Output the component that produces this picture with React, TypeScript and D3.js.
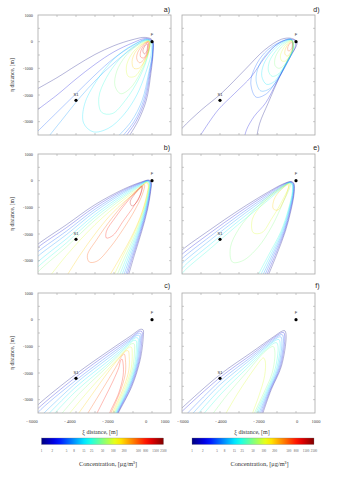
import React, { useEffect, useRef } from "react";
import * as d3 from "d3";

// contour levels, µg/m3
const levels = [1, 2, 5, 8, 15, 25, 50, 100, 200, 500, 800, 1500, 2500];
const xTickValues = [-6000, -4000, -2000, 0, 1000];
const yTickValues = [1000, 0, -1000, -2000, -3000];
const source = { name: "F", xi: 0, eta: 0 };
const receptor = { name: "S1", xi: -4000, eta: -2200 };

type Contour = { level: number; closed: boolean; pts: [number, number][] };

// a) wide plume near the source
const contoursA: Contour[] = [
  { level: 1, closed: false, pts: [[-6500, -1950], [-5000, -1350], [-4000, -900], [-3000, -480], [-2000, -150], [-1000, 80], [-350, 160], [20, 60], [60, -350], [-60, -1200], [-300, -2200], [-750, -3000], [-1350, -3700]] },
  { level: 2, closed: false, pts: [[-6500, -2800], [-5000, -2000], [-4000, -1400], [-3000, -850], [-2000, -380], [-1000, -40], [-350, 120], [10, 40], [50, -350], [-100, -1200], [-370, -2200], [-850, -3000], [-1550, -3700]] },
  { level: 5, closed: false, pts: [[-6500, -3700], [-5000, -2650], [-4000, -1950], [-3000, -1250], [-2000, -620], [-1000, -140], [-350, 90], [0, 20], [40, -350], [-140, -1200], [-440, -2200], [-950, -3000], [-1750, -3700]] },
  { level: 8, closed: false, pts: [[-5600, -3700], [-4700, -2900], [-3800, -2100], [-2900, -1400], [-2000, -800], [-1000, -230], [-350, 60], [-10, 10], [30, -350], [-180, -1200], [-520, -2200], [-1100, -3000], [-2000, -3700]] },
  { level: 15, closed: true, pts: [[-150, 60], [-1000, -120], [-2000, -650], [-2900, -1450], [-3550, -2350], [-3600, -3050], [-3100, -3380], [-2300, -3250], [-1500, -2750], [-800, -2000], [-300, -1100], [-30, -350]] },
  { level: 25, closed: true, pts: [[-150, 40], [-900, -150], [-1700, -650], [-2400, -1350], [-2800, -2100], [-2650, -2650], [-2100, -2700], [-1400, -2200], [-700, -1400], [-250, -600]] },
  { level: 50, closed: true, pts: [[-150, 30], [-800, -160], [-1400, -550], [-1850, -1100], [-1950, -1650], [-1650, -1950], [-1150, -1750], [-600, -1150], [-200, -450]] },
  { level: 100, closed: true, pts: [[-150, 20], [-650, -150], [-1100, -500], [-1350, -950], [-1250, -1300], [-900, -1300], [-500, -900], [-200, -400]] },
  { level: 200, closed: true, pts: [[-150, 10], [-550, -130], [-900, -420], [-1050, -750], [-950, -1000], [-650, -980], [-350, -650], [-150, -300]] },
  { level: 500, closed: true, pts: [[-180, 0], [-500, -150], [-750, -400], [-800, -650], [-650, -790], [-400, -650], [-200, -350]] },
  { level: 800, closed: true, pts: [[-200, -30], [-450, -170], [-600, -380], [-600, -570], [-430, -610], [-270, -420]] },
  { level: 1500, closed: true, pts: [[-250, -80], [-400, -190], [-480, -350], [-400, -460], [-280, -360]] },
];

// b) narrow fan
const contoursB: Contour[] = [
  { level: 1, closed: false, pts: [[-6500, -2700], [-6000, -2380], [-4500, -1650], [-3000, -900], [-1500, -320], [-600, -60], [-150, 20], [-40, -60], [-70, -400], [-240, -1100], [-540, -1900], [-930, -2800], [-1300, -3700]] },
  { level: 2, closed: false, pts: [[-6500, -2850], [-6000, -2500], [-4500, -1760], [-3000, -980], [-1500, -360], [-600, -80], [-170, 10], [-60, -70], [-90, -400], [-270, -1100], [-580, -1900], [-990, -2800], [-1380, -3700]] },
  { level: 5, closed: false, pts: [[-6500, -3000], [-6000, -2660], [-4500, -1890], [-3000, -1070], [-1500, -410], [-600, -100], [-190, 0], [-80, -80], [-110, -400], [-300, -1100], [-620, -1900], [-1050, -2800], [-1460, -3700]] },
  { level: 8, closed: false, pts: [[-6500, -3180], [-6000, -2830], [-4500, -2020], [-3000, -1160], [-1500, -460], [-600, -125], [-210, -10], [-100, -90], [-130, -400], [-330, -1100], [-660, -1900], [-1120, -2800], [-1560, -3700]] },
  { level: 15, closed: false, pts: [[-6500, -3400], [-6000, -3040], [-4500, -2180], [-3000, -1270], [-1500, -520], [-600, -150], [-230, -20], [-120, -100], [-150, -400], [-360, -1100], [-710, -1900], [-1200, -2800], [-1670, -3700]] },
  { level: 25, closed: false, pts: [[-6500, -3600], [-6000, -3230], [-4500, -2330], [-3000, -1370], [-1500, -580], [-600, -175], [-250, -30], [-140, -110], [-170, -400], [-390, -1100], [-760, -1900], [-1290, -2800], [-1790, -3700]] },
  { level: 50, closed: false, pts: [[-6300, -3700], [-6000, -3420], [-4500, -2480], [-3000, -1480], [-1500, -640], [-600, -200], [-270, -40], [-160, -120], [-190, -400], [-420, -1100], [-820, -1900], [-1390, -2800], [-1930, -3700]] },
  { level: 100, closed: false, pts: [[-5500, -3700], [-4500, -2800], [-3000, -1650], [-1500, -720], [-600, -240], [-290, -60], [-180, -135], [-220, -420], [-460, -1100], [-890, -1900], [-1510, -2800], [-2100, -3700]] },
  { level: 200, closed: false, pts: [[-4600, -3700], [-3800, -2800], [-3000, -2000], [-2200, -1300], [-1400, -750], [-600, -290], [-310, -80], [-200, -160], [-250, -450], [-510, -1150], [-970, -1950], [-1650, -2850], [-2350, -3700]] },
  { level: 500, closed: true, pts: [[-400, -150], [-1200, -650], [-2100, -1400], [-2900, -2200], [-3400, -2800], [-3300, -3050], [-2900, -3020], [-2200, -2500], [-1500, -1800], [-900, -1100], [-500, -500]] },
  { level: 800, closed: true, pts: [[-500, -200], [-1200, -700], [-1900, -1350], [-2400, -1900], [-2400, -2150], [-2050, -2050], [-1500, -1500], [-950, -950], [-600, -500]] },
  { level: 1500, closed: true, pts: [[-550, -230], [-900, -500], [-1150, -800], [-1050, -950], [-800, -800], [-600, -500]] },
];

// c) plume detached from the source
const contoursC: Contour[] = [
  { level: 1, closed: false, pts: [[-6500, -3550], [-6000, -3190], [-4000, -2040], [-2200, -1130], [-1100, -600], [-600, -360], [-470, -380], [-460, -650], [-620, -1500], [-1060, -2500], [-1770, -3500], [-1850, -3650]] },
  { level: 2, closed: false, pts: [[-6500, -3700], [-6000, -3330], [-4000, -2150], [-2200, -1210], [-1100, -670], [-650, -430], [-530, -450], [-530, -720], [-680, -1550], [-1100, -2500], [-1800, -3500], [-1880, -3650]] },
  { level: 5, closed: false, pts: [[-6200, -3700], [-6000, -3480], [-4000, -2270], [-2200, -1300], [-1200, -780], [-720, -510], [-590, -530], [-600, -790], [-740, -1600], [-1140, -2500], [-1830, -3500], [-1910, -3650]] },
  { level: 8, closed: false, pts: [[-5900, -3650], [-4000, -2380], [-2200, -1390], [-1250, -860], [-790, -590], [-660, -600], [-670, -860], [-800, -1650], [-1180, -2500], [-1860, -3500], [-1940, -3650]] },
  { level: 15, closed: false, pts: [[-5600, -3650], [-4000, -2520], [-2200, -1490], [-1300, -950], [-870, -680], [-740, -690], [-740, -940], [-860, -1700], [-1220, -2500], [-1890, -3500], [-1970, -3650]] },
  { level: 25, closed: false, pts: [[-5300, -3650], [-4000, -2680], [-2300, -1650], [-1400, -1060], [-960, -780], [-830, -790], [-820, -1030], [-930, -1750], [-1270, -2500], [-1930, -3500], [-2010, -3650]] },
  { level: 50, closed: false, pts: [[-4900, -3650], [-3800, -2750], [-2400, -1800], [-1500, -1180], [-1060, -900], [-940, -910], [-920, -1130], [-1010, -1800], [-1330, -2500], [-1970, -3500], [-2050, -3650]] },
  { level: 100, closed: false, pts: [[-4500, -3650], [-3500, -2800], [-2500, -2000], [-1600, -1320], [-1190, -1030], [-1080, -1040], [-1040, -1250], [-1100, -1850], [-1400, -2500], [-2020, -3500], [-2100, -3650]] },
  { level: 200, closed: false, pts: [[-4000, -3650], [-3200, -2850], [-2500, -2150], [-1800, -1500], [-1370, -1170], [-1250, -1170], [-1200, -1380], [-1220, -1900], [-1500, -2550], [-2080, -3500], [-2160, -3650]] },
  { level: 500, closed: false, pts: [[-3500, -3650], [-2900, -2950], [-2300, -2250], [-1800, -1650], [-1560, -1330], [-1460, -1290], [-1400, -1500], [-1400, -2000], [-1650, -2650], [-2160, -3500], [-2240, -3650]] },
  { level: 800, closed: false, pts: [[-3000, -3650], [-2500, -2950], [-2050, -2300], [-1750, -1800], [-1650, -1530], [-1580, -1480], [-1520, -1650], [-1520, -2100], [-1750, -2750], [-2230, -3500], [-2300, -3650]] },
];

// d) short plume, closed isolines
const contoursD: Contour[] = [
  { level: 1, closed: false, pts: [[-6500, -3700], [-6000, -3250], [-4980, -2560], [-3930, -1940], [-2700, -1060], [-1650, -310], [-770, 90], [-250, 125], [50, 0], [0, -190], [-330, -560], [-860, -1310], [-1470, -2310], [-1910, -3060], [-2100, -3700]] },
  { level: 2, closed: false, pts: [[-5200, -3700], [-5020, -3500], [-4100, -2560], [-3230, -1940], [-2350, -1310], [-1650, -600], [-1000, -100], [-400, 80], [-50, 40], [-40, -200], [-400, -700], [-1000, -1500], [-1600, -2300], [-2200, -2800], [-2600, -3300], [-2750, -3700]] },
  { level: 5, closed: true, pts: [[-250, 90], [-950, -50], [-1650, -420], [-2150, -950], [-2380, -1550], [-2100, -2080], [-1550, -1950], [-1100, -1550], [-600, -950], [-200, -350]] },
  { level: 8, closed: true, pts: [[-250, 80], [-900, -60], [-1500, -420], [-1950, -900], [-2100, -1450], [-1850, -1850], [-1350, -1750], [-950, -1400], [-500, -850], [-180, -320]] },
  { level: 15, closed: true, pts: [[-250, 70], [-800, -70], [-1300, -400], [-1700, -850], [-1800, -1300], [-1550, -1600], [-1150, -1500], [-800, -1150], [-420, -700], [-150, -280]] },
  { level: 25, closed: true, pts: [[-230, 60], [-700, -80], [-1100, -380], [-1400, -750], [-1450, -1100], [-1250, -1300], [-900, -1200], [-600, -900], [-330, -550], [-130, -230]] },
  { level: 50, closed: true, pts: [[-220, 50], [-600, -90], [-900, -330], [-1100, -620], [-1100, -900], [-900, -1000], [-650, -900], [-420, -650], [-230, -400], [-100, -180]] },
  { level: 100, closed: true, pts: [[-200, 40], [-500, -90], [-700, -300], [-820, -530], [-750, -720], [-550, -720], [-350, -550], [-180, -300]] },
  { level: 200, closed: true, pts: [[-200, 20], [-420, -100], [-560, -280], [-580, -470], [-450, -540], [-300, -420], [-170, -220]] },
  { level: 500, closed: true, pts: [[-220, -20], [-370, -110], [-440, -250], [-400, -350], [-300, -320], [-200, -180]] },
];

// e) fan with closed core
const contoursE: Contour[] = [
  { level: 1, closed: false, pts: [[-6500, -2950], [-6000, -2600], [-4500, -1830], [-3000, -1100], [-1500, -440], [-700, -130], [-250, -30], [-120, -90], [-90, -400], [-260, -1100], [-560, -1900], [-1030, -2800], [-1550, -3700]] },
  { level: 2, closed: false, pts: [[-6500, -3100], [-6000, -2760], [-4500, -1950], [-3000, -1190], [-1500, -490], [-700, -150], [-270, -45], [-140, -100], [-110, -400], [-290, -1100], [-600, -1900], [-1100, -2800], [-1640, -3700]] },
  { level: 5, closed: false, pts: [[-6500, -3280], [-6000, -2920], [-4500, -2080], [-3000, -1290], [-1500, -550], [-700, -180], [-290, -55], [-160, -110], [-130, -400], [-320, -1100], [-640, -1900], [-1180, -2800], [-1740, -3700]] },
  { level: 8, closed: false, pts: [[-6500, -3480], [-6000, -3100], [-4500, -2220], [-3000, -1390], [-1500, -610], [-700, -210], [-310, -65], [-180, -120], [-150, -400], [-350, -1100], [-690, -1900], [-1260, -2800], [-1850, -3700]] },
  { level: 15, closed: false, pts: [[-6300, -3700], [-6000, -3300], [-4500, -2380], [-3000, -1500], [-1500, -680], [-700, -240], [-330, -75], [-200, -130], [-170, -400], [-380, -1100], [-740, -1900], [-1350, -2800], [-1980, -3700]] },
  { level: 25, closed: false, pts: [[-6150, -3700], [-6000, -3480], [-4500, -2540], [-3000, -1620], [-1500, -750], [-700, -270], [-350, -85], [-220, -140], [-190, -400], [-410, -1100], [-790, -1900], [-1450, -2800], [-2120, -3700]] },
  { level: 50, closed: true, pts: [[-300, -100], [-1200, -450], [-2200, -1100], [-3000, -1800], [-3450, -2500], [-3350, -3050], [-2800, -3000], [-2000, -2500], [-1300, -1750], [-700, -850]] },
  { level: 100, closed: true, pts: [[-350, -120], [-1100, -450], [-1800, -900], [-2300, -1450], [-2250, -1950], [-1800, -1950], [-1300, -1450], [-800, -850]] },
  { level: 200, closed: true, pts: [[-400, -150], [-800, -350], [-1150, -700], [-1200, -1050], [-950, -1100], [-650, -750], [-450, -400]] },
];

// f) detached narrow plume
const contoursF: Contour[] = [
  { level: 1, closed: false, pts: [[-6500, -3650], [-6000, -3310], [-4000, -2060], [-2350, -1230], [-1200, -650], [-700, -420], [-580, -420], [-520, -650], [-770, -1750], [-1300, -2620], [-1740, -3500], [-1800, -3650]] },
  { level: 2, closed: false, pts: [[-6300, -3650], [-6000, -3440], [-4000, -2170], [-2350, -1310], [-1250, -720], [-760, -490], [-640, -490], [-590, -720], [-830, -1780], [-1350, -2640], [-1800, -3500], [-1860, -3650]] },
  { level: 5, closed: false, pts: [[-5900, -3650], [-4000, -2300], [-2400, -1420], [-1300, -800], [-830, -570], [-710, -570], [-660, -800], [-890, -1810], [-1400, -2660], [-1870, -3500], [-1930, -3650]] },
  { level: 8, closed: false, pts: [[-5600, -3650], [-4000, -2440], [-2450, -1530], [-1350, -880], [-900, -650], [-790, -650], [-740, -880], [-960, -1850], [-1460, -2680], [-1940, -3500], [-2000, -3650]] },
  { level: 15, closed: false, pts: [[-5300, -3650], [-4000, -2620], [-2500, -1660], [-1450, -980], [-1000, -750], [-890, -750], [-830, -970], [-1040, -1890], [-1530, -2700], [-2020, -3500], [-2080, -3650]] },
  { level: 25, closed: false, pts: [[-5000, -3650], [-3900, -2750], [-2550, -1800], [-1550, -1100], [-1120, -870], [-1010, -870], [-940, -1080], [-1130, -1930], [-1610, -2730], [-2100, -3500], [-2160, -3650]] },
  { level: 50, closed: false, pts: [[-4500, -3650], [-3600, -2800], [-2600, -1980], [-1700, -1240], [-1300, -1020], [-1190, -1010], [-1110, -1220], [-1250, -1990], [-1710, -2770], [-2180, -3500], [-2240, -3650]] },
  { level: 100, closed: false, pts: [[-3800, -3650], [-3100, -2800], [-2500, -2150], [-1950, -1600], [-1800, -1470], [-1720, -1430], [-1620, -1550], [-1650, -2100], [-1950, -2850], [-2280, -3500], [-2330, -3650]] },
];

const panels = [
  { label: "a)", col: 0, row: 0, contours: contoursA },
  { label: "b)", col: 0, row: 1, contours: contoursB },
  { label: "c)", col: 0, row: 2, contours: contoursC },
  { label: "d)", col: 1, row: 0, contours: contoursD },
  { label: "e)", col: 1, row: 1, contours: contoursE },
  { label: "f)", col: 1, row: 2, contours: contoursF },
];

const App = () => {
  const svgRef = useRef<SVGSVGElement>(null);

  useEffect(() => {
    const width = 338;
    const height = 480;
    const colLeft = [38, 182];
    const rowTop = [15, 154, 293];
    const pw = 133;
    const ph = 120;
    const serif = "'Liberation Serif', 'DejaVu Serif', serif";
    const sans = "'Liberation Sans', Arial, sans-serif";
    const frameColor = "#a8a8a8";

    const svg = d3.select(svgRef.current).attr("width", width).attr("height", height);
    svg.selectAll("*").remove();
    svg.append("rect").attr("width", width).attr("height", height).attr("fill", "#fff");

    // jet colour map on log concentration
    const jet = d3
      .scaleLinear<string>()
      .domain([0, 0.125, 0.375, 0.625, 0.875, 1])
      .range(["#00007f", "#0000ff", "#00ffff", "#ffff00", "#ff0000", "#7f0000"]);
    const logT = d3.scaleLog().domain([1, 2500]).range([0, 1]);
    const color = (v: number) => jet(logT(v));

    const defs = svg.append("defs");

    panels.forEach((p, i) => {
      const x0 = colLeft[p.col];
      const y0 = rowTop[p.row];
      const x = d3.scaleLinear().domain([-6000, 1000]).range([x0, x0 + pw]);
      const y = d3.scaleLinear().domain([-3500, 1000]).range([y0 + ph, y0]);

      defs
        .append("clipPath")
        .attr("id", `clip${i}`)
        .append("rect")
        .attr("x", x0)
        .attr("y", y0)
        .attr("width", pw)
        .attr("height", ph);

      const g = svg.append("g");

      // contour lines
      const cg = g.append("g").attr("clip-path", `url(#clip${i})`);
      p.contours.forEach((c) => {
        const line = d3
          .line<[number, number]>()
          .x((d) => x(d[0]))
          .y((d) => y(d[1]))
          .curve(c.closed ? d3.curveCatmullRomClosed.alpha(0.5) : d3.curveCatmullRom.alpha(0.5));
        cg.append("path")
          .attr("d", line(c.pts))
          .attr("fill", "none")
          .attr("stroke", color(c.level))
          .attr("stroke-opacity", 0.42)
          .attr("stroke-width", 0.7);
      });

      // frame and inward ticks
      g.append("rect")
        .attr("x", x0)
        .attr("y", y0)
        .attr("width", pw)
        .attr("height", ph)
        .attr("fill", "none")
        .attr("stroke", frameColor)
        .attr("stroke-width", 0.8);

      const xt = d3.range(-5000, 1000, 1000);
      const yt = d3.range(-3000, 1000, 500);
      const tk = g.append("g").attr("stroke", frameColor).attr("stroke-width", 0.6);
      xt.forEach((v) => {
        tk.append("line").attr("x1", x(v)).attr("x2", x(v)).attr("y1", y0).attr("y2", y0 + 2);
        tk.append("line").attr("x1", x(v)).attr("x2", x(v)).attr("y1", y0 + ph).attr("y2", y0 + ph - 2);
      });
      yt.forEach((v) => {
        tk.append("line").attr("x1", x0).attr("x2", x0 + 2).attr("y1", y(v)).attr("y2", y(v));
        tk.append("line").attr("x1", x0 + pw).attr("x2", x0 + pw - 2).attr("y1", y(v)).attr("y2", y(v));
      });

      // y tick labels and title on the left column
      if (p.col === 0) {
        yTickValues.forEach((v) => {
          g.append("text")
            .attr("x", x0 - 5)
            .attr("y", y(v) + 1.5)
            .attr("text-anchor", "end")
            .attr("font-family", serif)
            .attr("font-size", 4.3)
            .attr("fill", "#444")
            .text(String(v));
        });
        g.append("text")
          .attr("transform", `translate(14,${y0 + ph / 2}) rotate(-90)`)
          .attr("text-anchor", "middle")
          .attr("font-family", serif)
          .attr("font-size", 5.6)
          .attr("fill", "#333")
          .text("η distance, [m]");
      }

      // x tick labels on the bottom row
      if (p.row === 2) {
        const shift = p.col === 0 ? -6 : 1;
        xTickValues.forEach((v) => {
          g.append("text")
            .attr("x", x(v) + shift)
            .attr("y", y0 + ph + 9.5)
            .attr("text-anchor", "middle")
            .attr("font-family", serif)
            .attr("font-size", 4.5)
            .attr("fill", "#444")
            .text(v < 0 ? `- ${Math.abs(v)}` : String(v));
        });
        g.append("text")
          .attr("x", p.col === 0 ? 100 : 252)
          .attr("y", y0 + ph + 21)
          .attr("text-anchor", "middle")
          .attr("font-family", serif)
          .attr("font-size", 6)
          .attr("fill", "#333")
          .text("ξ distance, [m]");
      }

      // panel letter
      g.append("text")
        .attr("x", p.col === 0 ? 170 : 319.5)
        .attr("y", [11.5, 150, 288][p.row])
        .attr("text-anchor", "end")
        .attr("font-family", sans)
        .attr("font-size", 7)
        .attr("fill", "#222")
        .text(p.label);

      // source and receptor
      [source, receptor].forEach((pt) => {
        g.append("circle").attr("cx", x(pt.xi)).attr("cy", y(pt.eta)).attr("r", 1.6).attr("fill", "#000");
        g.append("text")
          .attr("x", x(pt.xi))
          .attr("y", y(pt.eta) - (pt.name === "F" ? 6 : 4))
          .attr("text-anchor", "middle")
          .attr("font-family", sans)
          .attr("font-size", 4)
          .attr("fill", "#333")
          .text(pt.name);
      });
    });

    // colour bars
    const grad = defs.append("linearGradient").attr("id", "jetgrad");
    d3.range(0, 1.0001, 0.05).forEach((t) => {
      grad.append("stop").attr("offset", `${t * 100}%`).attr("stop-color", jet(t));
    });

    const bars = [
      { x0: 41.5, x1: 163.5, titleX: 108 },
      { x0: 192, x1: 314, titleX: 259.5 },
    ];
    bars.forEach((b) => {
      const cx = d3.scaleLog().domain([1, 2500]).range([b.x0, b.x1]);
      svg
        .append("rect")
        .attr("x", b.x0)
        .attr("y", 438)
        .attr("width", b.x1 - b.x0)
        .attr("height", 6.5)
        .attr("fill", "url(#jetgrad)")
        .attr("stroke", "#777")
        .attr("stroke-width", 0.3);
      levels.forEach((v) => {
        svg
          .append("text")
          .attr("x", cx(v))
          .attr("y", 452)
          .attr("text-anchor", "middle")
          .attr("font-family", serif)
          .attr("font-size", 3.2)
          .attr("fill", "#555")
          .text(String(v));
      });
      svg
        .append("text")
        .attr("x", b.titleX)
        .attr("y", 466)
        .attr("text-anchor", "middle")
        .attr("font-family", serif)
        .attr("font-size", 6.3)
        .attr("fill", "#333")
        .text("Concentration, [μg/m³]");
    });
  }, []);

  return <svg ref={svgRef} style={{ position: "absolute", left: 0, top: 0 }}></svg>;
};

export default App;
